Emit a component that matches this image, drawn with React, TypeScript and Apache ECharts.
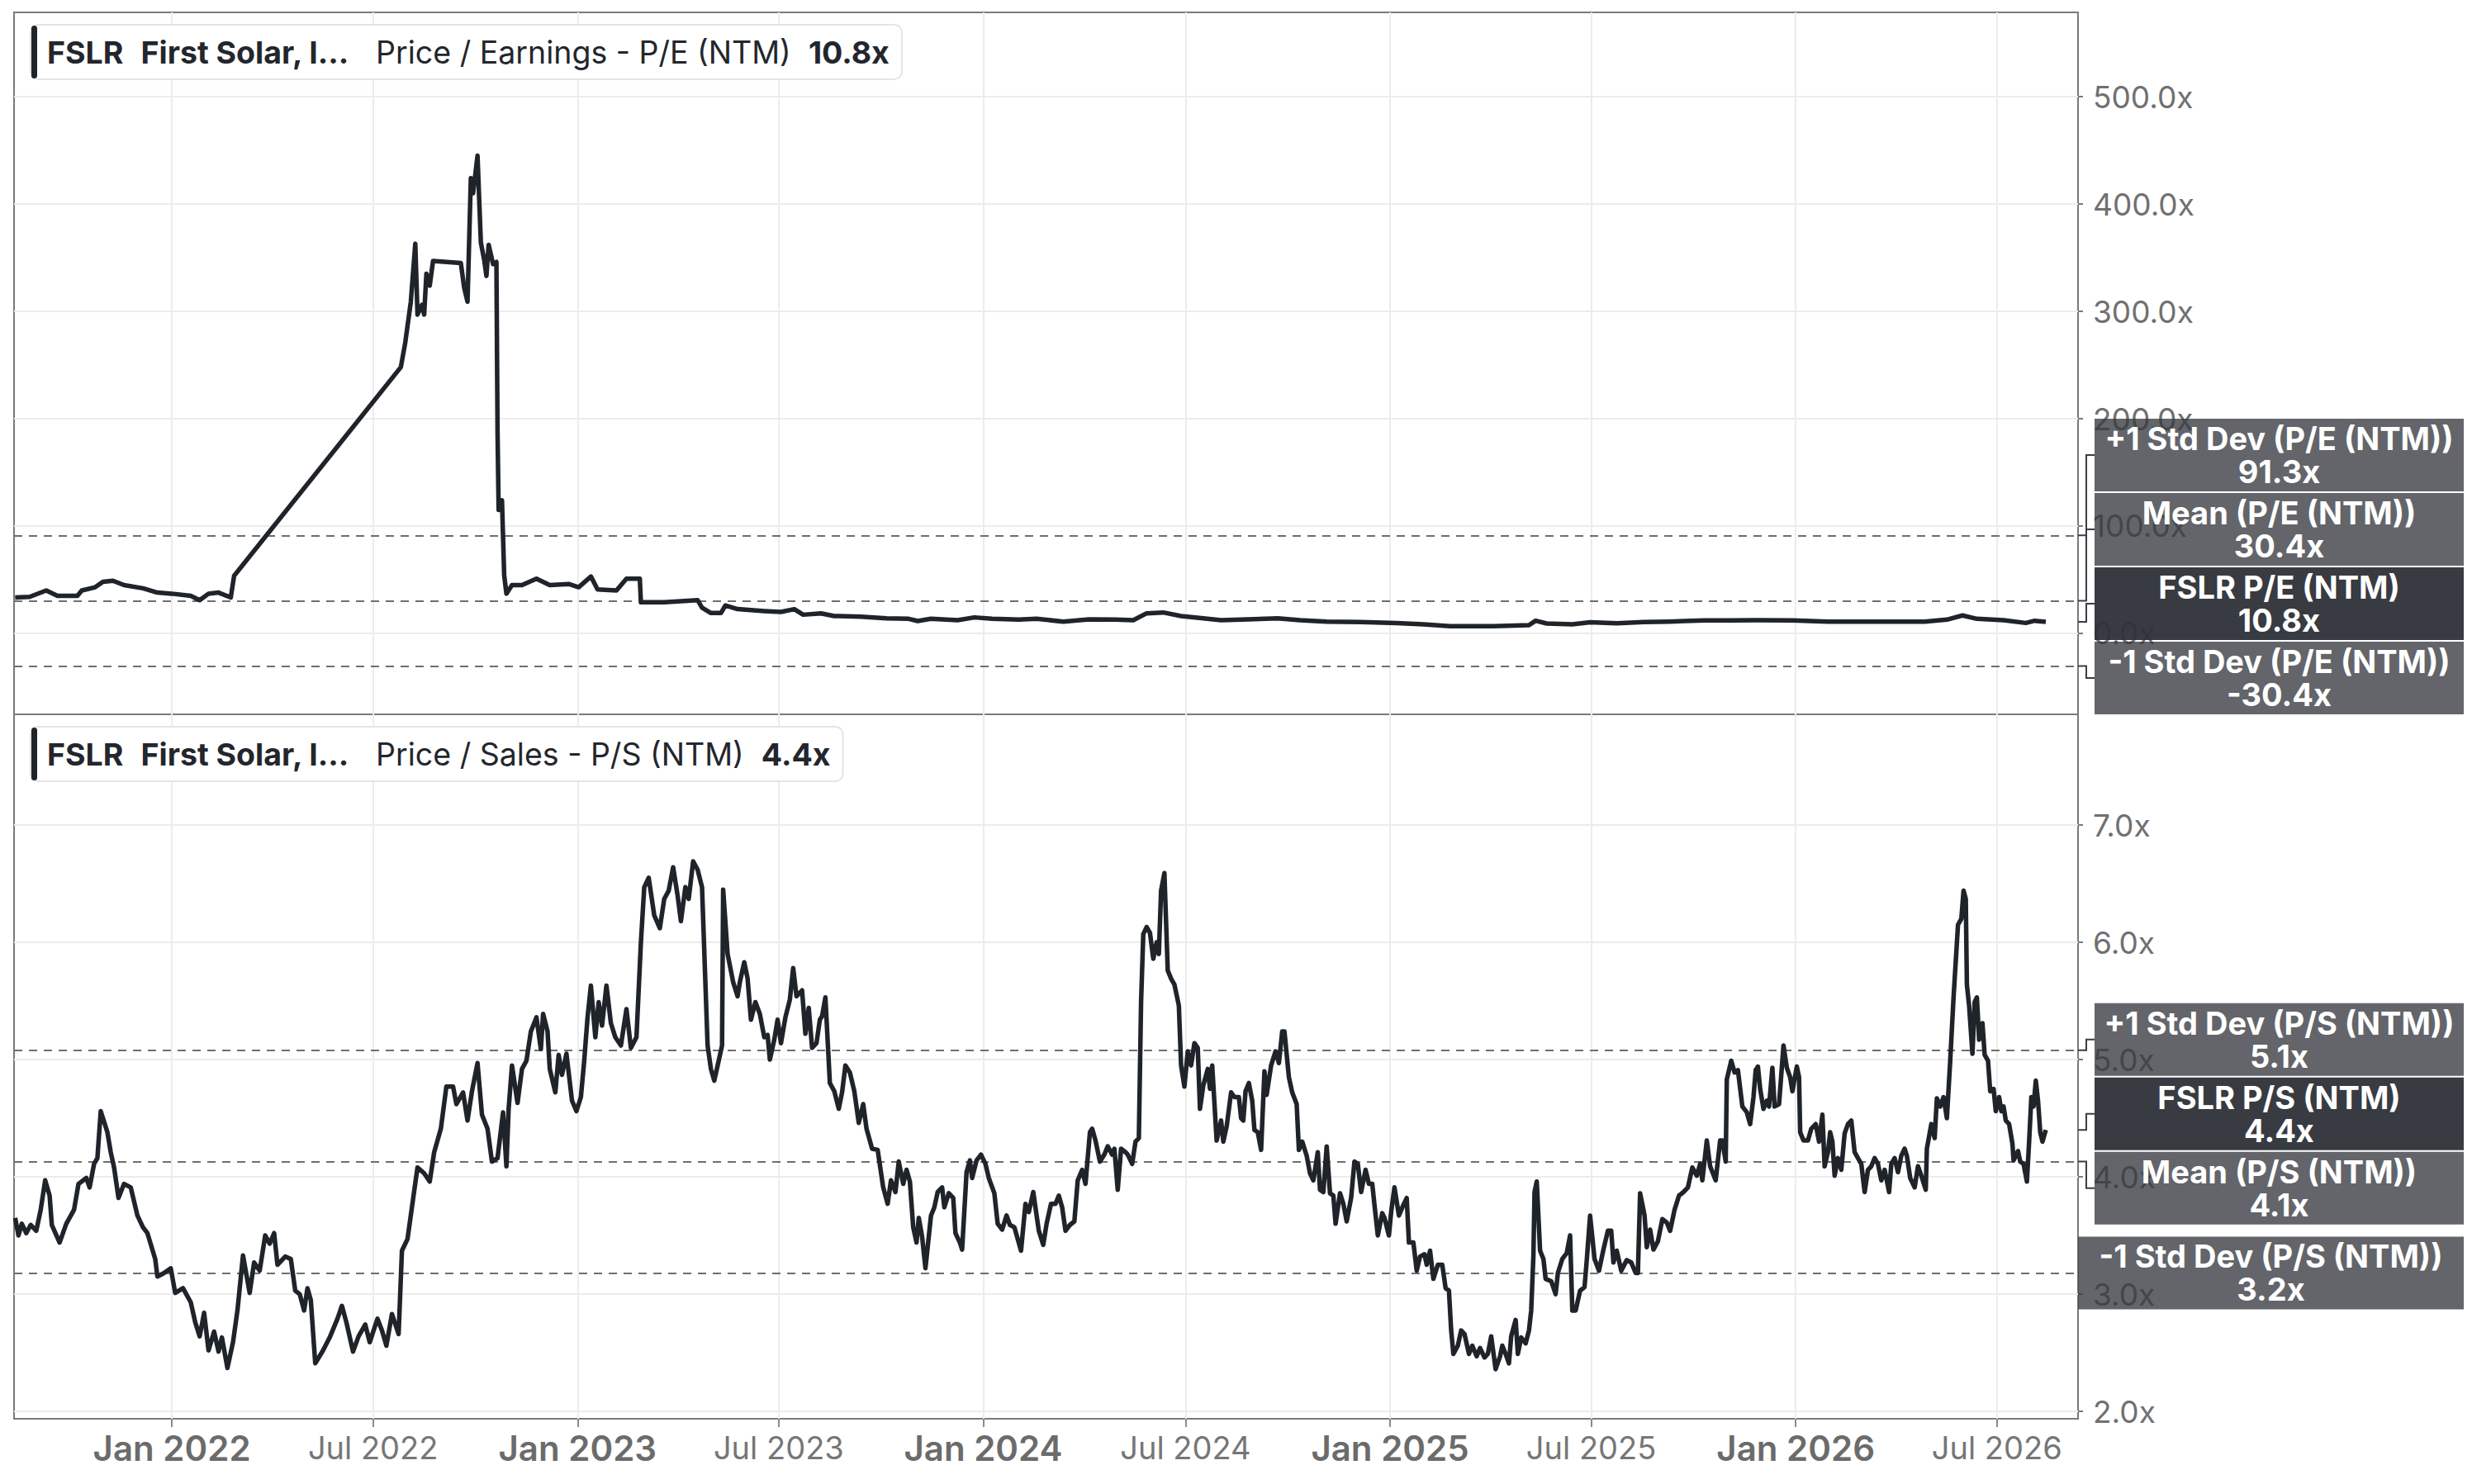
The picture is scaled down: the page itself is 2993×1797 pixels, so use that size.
import React, { useEffect, useRef } from "react";
import * as echarts from "echarts";

// ---------------- DATA ----------------
const ticker = "FSLR";
const companyShort = "First Solar, I...";
const peMetricName = "Price / Earnings - P/E (NTM)";
const psMetricName = "Price / Sales - P/S (NTM)";

const peDates = [
  "2021-08-13","2021-08-26","2021-09-10","2021-09-20","2021-10-08","2021-10-12","2021-10-24","2021-10-31","2021-11-09","2021-11-19",
  "2021-12-06","2021-12-19","2022-01-01","2022-01-18","2022-01-26","2022-02-03","2022-02-12","2022-02-23","2022-02-26","2022-07-26",
  "2022-07-30","2022-08-04","2022-08-08","2022-08-10","2022-08-14","2022-08-16","2022-08-18","2022-08-21","2022-08-24","2022-09-18",
  "2022-09-21","2022-09-24","2022-09-27","2022-09-29","2022-10-03","2022-10-06","2022-10-09","2022-10-11","2022-10-13","2022-10-17",
  "2022-10-20","2022-10-21","2022-10-22","2022-10-25","2022-10-27","2022-10-29","2022-11-03","2022-11-12","2022-11-25","2022-12-07",
  "2022-12-24","2023-01-02","2023-01-13","2023-01-19","2023-02-05","2023-02-14","2023-02-26","2023-02-27","2023-03-20","2023-04-19",
  "2023-04-23","2023-05-01","2023-05-10","2023-05-14","2023-05-25","2023-06-18","2023-07-03","2023-07-15","2023-07-23","2023-08-08",
  "2023-08-20","2023-09-13","2023-10-06","2023-10-26","2023-11-03","2023-11-15","2023-12-09","2023-12-24","2024-01-09","2024-02-02",
  "2024-02-18","2024-03-13","2024-04-05","2024-04-29","2024-05-15","2024-05-27","2024-06-11","2024-06-27","2024-07-17","2024-08-02",
  "2024-08-26","2024-09-22","2024-10-12","2024-11-05","2024-12-06","2025-01-07","2025-01-31","2025-02-24","2025-04-04","2025-05-06",
  "2025-05-12","2025-05-22","2025-06-14","2025-06-30","2025-07-24","2025-08-17","2025-09-09","2025-10-11","2025-11-04","2025-11-27",
  "2025-12-29","2026-01-30","2026-03-02","2026-04-03","2026-04-27","2026-05-17","2026-05-31","2026-06-13","2026-07-07","2026-07-27",
  "2026-08-04","2026-08-14",
];
const peValues = [
  33.5,34,40,35,35,40,43,48,49,45,
  42,38,37,35,31,37,38,33.5,53.6,248,
  271,309,363,297,306,297,335,324,347,345,
  322,309,424,410,445,364,348,333,362,344,
  346,188,115,124,54,37,45,45,51,45,
  46,43,53,41,40,51,51,29,29,31,
  24,19,19,26,22.6,20.8,20,22.6,17.4,18.7,
  16.2,15.6,14.1,13.6,11.5,13.6,12.3,14.9,13.6,12.8,
  13.6,11.0,13.1,12.8,12.3,18.7,19.5,16.2,14.1,12.3,
  13.1,14.1,12.3,11.0,10.5,9.7,8.5,6.7,6.7,7.7,
  11.8,9.2,8.5,10.3,9.5,10.5,11.0,12.1,12.1,12.3,
  12.1,11.0,11.0,11.0,11.0,12.8,16.7,13.6,12.3,9.7,
  11.8,10.8,
];

const psDates = [
  "2021-08-13","2021-08-16","2021-08-19","2021-08-23","2021-08-27","2021-09-01","2021-09-05","2021-09-09","2021-09-13","2021-09-15",
  "2021-09-22","2021-09-28","2021-10-05","2021-10-09","2021-10-16","2021-10-19","2021-10-23","2021-10-26","2021-10-29","2021-11-04",
  "2021-11-07","2021-11-10","2021-11-14","2021-11-19","2021-11-25","2021-12-01","2021-12-06","2021-12-10","2021-12-17","2021-12-19",
  "2021-12-25","2021-12-31","2022-01-04","2022-01-11","2022-01-18","2022-01-22","2022-01-26","2022-01-30","2022-02-03","2022-02-08",
  "2022-02-12","2022-02-15","2022-02-20","2022-02-25","2022-03-01","2022-03-06","2022-03-12","2022-03-16","2022-03-21","2022-03-26",
  "2022-03-30","2022-04-03","2022-04-06","2022-04-13","2022-04-18","2022-04-22","2022-04-26","2022-04-30","2022-05-03","2022-05-06",
  "2022-05-10","2022-05-17","2022-05-23","2022-05-30","2022-06-03","2022-06-07","2022-06-13","2022-06-18","2022-06-24","2022-06-28",
  "2022-07-05","2022-07-09","2022-07-13","2022-07-18","2022-07-24","2022-07-27","2022-08-01","2022-08-06","2022-08-10","2022-08-16",
  "2022-08-21","2022-08-25","2022-08-31","2022-09-05","2022-09-11","2022-09-14","2022-09-20","2022-09-24","2022-09-28","2022-10-03",
  "2022-10-07","2022-10-12","2022-10-16","2022-10-21","2022-10-26","2022-10-29","2022-10-31","2022-11-03","2022-11-08","2022-11-12",
  "2022-11-16","2022-11-20","2022-11-25","2022-11-29","2022-12-01","2022-12-05","2022-12-07","2022-12-12","2022-12-15","2022-12-18",
  "2022-12-22","2022-12-27","2022-12-31","2023-01-04","2023-01-07","2023-01-10","2023-01-13","2023-01-17","2023-01-20","2023-01-23",
  "2023-01-27","2023-01-31","2023-02-04","2023-02-09","2023-02-14","2023-02-18","2023-02-23","2023-02-27","2023-03-02","2023-03-06",
  "2023-03-11","2023-03-16","2023-03-20","2023-03-24","2023-03-28","2023-04-01","2023-04-04","2023-04-08","2023-04-11","2023-04-15",
  "2023-04-19","2023-04-23","2023-04-28","2023-05-01","2023-05-04","2023-05-08","2023-05-11","2023-05-12","2023-05-16","2023-05-21",
  "2023-05-25","2023-05-27","2023-05-31","2023-06-03","2023-06-06","2023-06-10","2023-06-14","2023-06-18","2023-06-21","2023-06-23",
  "2023-06-27","2023-06-30","2023-07-03","2023-07-07","2023-07-11","2023-07-14","2023-07-17","2023-07-22","2023-07-25","2023-07-28",
  "2023-07-31","2023-08-04","2023-08-07","2023-08-09","2023-08-12","2023-08-16","2023-08-20","2023-08-24","2023-08-27","2023-08-30",
  "2023-09-03","2023-09-07","2023-09-11","2023-09-15","2023-09-18","2023-09-23","2023-09-28","2023-10-03","2023-10-07","2023-10-10",
  "2023-10-14","2023-10-17","2023-10-21","2023-10-24","2023-10-27","2023-10-30","2023-11-02","2023-11-04","2023-11-07","2023-11-10",
  "2023-11-15","2023-11-18","2023-11-21","2023-11-25","2023-11-27","2023-12-01","2023-12-05","2023-12-07","2023-12-11","2023-12-13",
  "2023-12-17","2023-12-20","2023-12-22","2023-12-26","2023-12-30","2024-01-03","2024-01-06","2024-01-11","2024-01-14","2024-01-18",
  "2024-01-22","2024-01-25","2024-01-29","2024-02-01","2024-02-04","2024-02-08","2024-02-11","2024-02-15","2024-02-20","2024-02-24",
  "2024-02-27","2024-03-02","2024-03-06","2024-03-09","2024-03-12","2024-03-15","2024-03-19","2024-03-23","2024-03-26","2024-03-30",
  "2024-04-02","2024-04-06","2024-04-08","2024-04-11","2024-04-15","2024-04-19","2024-04-22","2024-04-26","2024-04-28","2024-05-01",
  "2024-05-04","2024-05-08","2024-05-10","2024-05-14","2024-05-17","2024-05-20","2024-05-22","2024-05-24","2024-05-27","2024-05-30",
  "2024-06-02","2024-06-05","2024-06-07","2024-06-09","2024-06-12","2024-06-15","2024-06-18","2024-06-21","2024-06-25","2024-06-27",
  "2024-06-30","2024-07-03","2024-07-06","2024-07-09","2024-07-12","2024-07-14","2024-07-17","2024-07-21","2024-07-23","2024-07-25",
  "2024-07-29","2024-08-02","2024-08-04","2024-08-07","2024-08-11","2024-08-14","2024-08-18","2024-08-20","2024-08-22","2024-08-24",
  "2024-08-27","2024-08-30","2024-09-01","2024-09-04","2024-09-07","2024-09-10","2024-09-12","2024-09-16","2024-09-20","2024-09-23",
  "2024-09-26","2024-09-28","2024-10-02","2024-10-05","2024-10-09","2024-10-11","2024-10-14","2024-10-18","2024-10-21","2024-10-24",
  "2024-10-28","2024-10-30","2024-11-02","2024-11-05","2024-11-08","2024-11-11","2024-11-13","2024-11-17","2024-11-20","2024-11-23",
  "2024-11-27","2024-11-30","2024-12-03","2024-12-06","2024-12-10","2024-12-13","2024-12-16","2024-12-18","2024-12-21","2024-12-25",
  "2024-12-27","2024-12-31","2025-01-02","2025-01-05","2025-01-09","2025-01-13","2025-01-16","2025-01-18","2025-01-22","2025-01-25",
  "2025-01-28","2025-02-01","2025-02-03","2025-02-06","2025-02-09","2025-02-13","2025-02-17","2025-02-20","2025-02-23","2025-02-25",
  "2025-02-27","2025-03-03","2025-03-06","2025-03-09","2025-03-13","2025-03-16","2025-03-20","2025-03-23","2025-03-27","2025-03-30",
  "2025-04-02","2025-04-06","2025-04-10","2025-04-12","2025-04-15","2025-04-18","2025-04-20","2025-04-24","2025-04-26","2025-04-29",
  "2025-05-03","2025-05-06","2025-05-08","2025-05-10","2025-05-11","2025-05-13","2025-05-16","2025-05-19","2025-05-21","2025-05-26",
  "2025-05-30","2025-06-01","2025-06-05","2025-06-09","2025-06-12","2025-06-14","2025-06-17","2025-06-21","2025-06-25","2025-06-27",
  "2025-06-30","2025-07-04","2025-07-08","2025-07-12","2025-07-16","2025-07-19","2025-07-21","2025-07-24","2025-07-28","2025-08-02",
  "2025-08-06","2025-08-10","2025-08-12","2025-08-14","2025-08-18","2025-08-20","2025-08-23","2025-08-26","2025-08-30","2025-09-03",
  "2025-09-07","2025-09-10","2025-09-14","2025-09-18","2025-09-22","2025-09-26","2025-09-30","2025-10-04","2025-10-07","2025-10-09",
  "2025-10-13","2025-10-16","2025-10-21","2025-10-25","2025-10-27","2025-10-30","2025-10-31","2025-11-04","2025-11-07","2025-11-10",
  "2025-11-14","2025-11-18","2025-11-21","2025-11-24","2025-11-26","2025-11-28","2025-11-30","2025-12-03","2025-12-06","2025-12-08",
  "2025-12-11","2025-12-13","2025-12-17","2025-12-21","2025-12-24","2025-12-27","2025-12-29","2026-01-02","2026-01-04","2026-01-05",
  "2026-01-08","2026-01-12","2026-01-15","2026-01-19","2026-01-22","2026-01-25","2026-01-27","2026-01-30","2026-02-01","2026-02-03",
  "2026-02-05","2026-02-08","2026-02-11","2026-02-14","2026-02-17","2026-02-20","2026-02-23","2026-02-26","2026-03-01","2026-03-04",
  "2026-03-07","2026-03-10","2026-03-13","2026-03-16","2026-03-19","2026-03-22","2026-03-26","2026-03-28","2026-03-31","2026-04-03",
  "2026-04-06","2026-04-09","2026-04-11","2026-04-14","2026-04-18","2026-04-21","2026-04-24","2026-04-28","2026-04-29","2026-05-03",
  "2026-05-06","2026-05-08","2026-05-11","2026-05-14","2026-05-17","2026-05-20","2026-05-23","2026-05-27","2026-05-30","2026-06-01",
  "2026-06-03","2026-06-04","2026-06-06","2026-06-09","2026-06-11","2026-06-13","2026-06-15","2026-06-18","2026-06-20","2026-06-23",
  "2026-06-25","2026-06-28","2026-06-30","2026-07-03","2026-07-05","2026-07-07","2026-07-09","2026-07-12","2026-07-15","2026-07-16",
  "2026-07-20","2026-07-22","2026-07-25","2026-07-28","2026-07-30","2026-08-01","2026-08-03","2026-08-05","2026-08-07","2026-08-09",
  "2026-08-11","2026-08-14",
];
const psValues = [
  3.65,3.50,3.60,3.52,3.59,3.54,3.72,3.97,3.84,3.59,
  3.44,3.60,3.72,3.94,3.99,3.91,4.11,4.16,4.56,4.38,
  4.21,4.08,3.82,3.94,3.91,3.67,3.57,3.52,3.30,3.15,
  3.18,3.22,3.01,3.05,2.93,2.76,2.64,2.84,2.52,2.68,
  2.51,2.63,2.37,2.59,2.86,3.33,3.01,3.27,3.20,3.50,
  3.43,3.52,3.25,3.32,3.30,3.03,3.00,2.86,3.05,2.95,
  2.41,2.52,2.63,2.79,2.90,2.76,2.51,2.64,2.74,2.59,
  2.79,2.69,2.56,2.83,2.66,3.37,3.47,3.81,4.08,4.03,
  3.96,4.21,4.41,4.77,4.77,4.62,4.72,4.48,4.73,4.97,
  4.53,4.41,4.13,4.16,4.55,4.09,4.58,4.95,4.63,4.92,
  4.99,5.24,5.36,5.09,5.39,5.24,4.92,4.72,5.04,4.87,
  5.05,4.65,4.56,4.68,4.99,5.36,5.63,5.19,5.49,5.29,
  5.63,5.31,5.19,5.12,5.43,5.10,5.19,6.00,6.47,6.55,
  6.23,6.12,6.37,6.44,6.64,6.40,6.18,6.47,6.37,6.69,
  6.62,6.47,5.12,4.92,4.82,4.99,5.12,6.45,5.90,5.66,
  5.54,5.66,5.83,5.69,5.34,5.49,5.39,5.19,5.21,5.00,
  5.17,5.34,5.14,5.36,5.51,5.78,5.54,5.59,5.22,5.44,
  5.10,5.14,5.34,5.37,5.53,4.80,4.73,4.58,4.72,4.95,
  4.89,4.73,4.46,4.62,4.41,4.24,4.23,3.91,3.77,3.97,
  3.87,4.13,3.94,4.06,3.96,3.57,3.44,3.65,3.49,3.22,
  3.67,3.74,3.87,3.91,3.74,3.86,3.82,3.52,3.44,3.38,
  4.04,4.14,3.99,4.14,4.19,4.11,3.99,3.86,3.60,3.55,
  3.67,3.59,3.57,3.47,3.37,3.77,3.70,3.87,3.54,3.42,
  3.60,3.77,3.77,3.84,3.74,3.54,3.59,3.62,3.97,4.06,
  3.94,4.38,4.41,4.31,4.13,4.19,4.26,4.19,4.24,3.89,
  4.24,4.21,4.19,4.11,4.30,4.33,5.49,6.07,6.13,6.08,
  5.86,6.00,5.90,6.44,6.59,5.76,5.69,5.64,5.46,4.95,
  4.77,5.07,4.95,5.14,5.10,4.58,4.78,4.92,4.75,4.95,
  4.31,4.48,4.30,4.43,4.72,4.68,4.68,4.50,4.48,4.73,
  4.80,4.65,4.40,4.38,4.23,4.90,4.70,4.95,5.07,4.97,
  5.24,5.24,4.85,4.72,4.62,4.23,4.30,4.18,4.03,3.97,
  4.21,3.89,3.87,4.26,3.86,3.84,3.60,3.86,3.77,3.62,
  3.82,4.13,4.11,3.87,4.06,3.94,3.94,3.76,3.50,3.69,
  3.65,3.50,3.70,3.91,3.67,3.76,3.82,3.44,3.44,3.20,
  3.32,3.34,3.25,3.37,3.13,3.25,3.25,3.05,3.03,2.69,
  2.49,2.56,2.69,2.66,2.49,2.56,2.47,2.54,2.46,2.49,
  2.64,2.36,2.47,2.56,2.49,2.41,2.64,2.78,2.49,2.63,
  2.58,2.69,2.86,3.33,3.87,3.96,3.37,3.30,3.13,3.11,
  3.00,3.18,3.30,3.35,3.50,2.86,2.86,3.03,3.06,3.29,
  3.67,3.30,3.20,3.38,3.54,3.54,3.27,3.37,3.20,3.29,
  3.27,3.18,3.18,3.86,3.67,3.40,3.55,3.38,3.45,3.64,
  3.61,3.54,3.72,3.84,3.87,3.91,4.08,4.01,4.11,3.97,
  4.31,4.09,3.97,4.31,4.31,4.13,4.83,4.99,4.89,4.91,
  4.60,4.55,4.45,4.68,4.91,4.94,4.75,4.58,4.65,4.60,
  4.93,4.60,4.62,5.12,4.93,4.85,4.73,4.94,4.85,4.38,
  4.31,4.31,4.41,4.45,4.30,4.53,4.09,4.21,4.38,4.30,
  4.01,4.16,4.06,4.37,4.45,4.48,4.21,4.16,4.11,3.87,
  4.06,4.09,4.16,4.11,3.97,4.06,3.87,4.11,4.16,4.04,
  4.18,4.24,4.18,3.99,3.91,4.09,4.01,3.89,4.24,4.45,
  4.33,4.67,4.60,4.68,4.50,4.99,5.53,6.15,6.20,6.44,
  6.37,5.64,5.46,5.05,5.49,5.53,5.17,5.31,5.04,4.99,
  4.73,4.75,4.56,4.68,4.56,4.60,4.48,4.45,4.28,4.14,
  4.22,4.13,4.11,3.96,4.30,4.68,4.60,4.82,4.65,4.38,
  4.30,4.40,
];

// reference lines (mean and +/-1 standard deviation)
const peStatLabels = ["+1 Std Dev (P/E (NTM))", "Mean (P/E (NTM))", "-1 Std Dev (P/E (NTM))"];
const peStatValues = [91.3, 30.4, -30.4];
const psStatLabels = ["+1 Std Dev (P/S (NTM))", "Mean (P/S (NTM))", "-1 Std Dev (P/S (NTM))"];
const psStatValues = [5.08, 4.13, 3.18];
const peCurrentLabel = "FSLR P/E (NTM)";
const psCurrentLabel = "FSLR P/S (NTM)";

// axes
const xTickDates = [
  "2022-01-01","2022-07-01","2023-01-01","2023-07-01","2024-01-01",
  "2024-07-01","2025-01-01","2025-07-01","2026-01-01","2026-07-01",
];
const xRange = ["2021-08-12", "2026-09-12"];
const peTicks = [0, 100, 200, 300, 400, 500];
const peRange = [-75.4, 578.5];
const psTicks = [2, 3, 4, 5, 6, 7];
const psRange = [1.937, 7.944];
const monthNames = ["Jan","Feb","Mar","Apr","May","Jun","Jul","Aug","Sep","Oct","Nov","Dec"];

// ---------------- LAYOUT ----------------
const W = 2993;
const H = 1797;
const FRAME_L = 17;
const FRAME_R = 2516;
const TOP1 = 15;
const SPLIT = 865;
const BOTTOM2 = 1718;
const BOX_H = 88;
const BOX_GAP = 2;
const BOX_RIGHT = 2983;
const CONN_X = 2526;
const SHIFT_X = 2536;
const BOX_LINE_OFFSET = 20;
const FONT = 'Inter, "Noto Sans", Roboto, sans-serif';
const LINE_COLOR = "#1f232a";
const GRID_COLOR = "#ececec";
const FRAME_COLOR = "#7a7a7a";

const ts = (s: string) => {
  const [y, m, d] = s.split("-").map(Number);
  return new Date(y, m - 1, d).getTime();
};

type BoxItem = { label: string; value: number; py: number; dark: boolean };

function layoutBoxes(items: BoxItem[], top: number, bottom: number) {
  const sorted = [...items].sort((a, b) => a.py - b.py);
  let clusters: BoxItem[][] = sorted.map((it) => [it]);
  const span = (c: BoxItem[]) => c.length * BOX_H + (c.length - 1) * BOX_GAP;
  const start = (c: BoxItem[]) => {
    const center = c.reduce((s, m) => s + m.py, 0) / c.length;
    let s = center - span(c) / 2;
    if (s < top) s = top;
    if (s + span(c) > bottom) s = bottom - span(c);
    return s;
  };
  let changed = true;
  while (changed) {
    changed = false;
    for (let i = 0; i < clusters.length - 1; i++) {
      if (start(clusters[i]) + span(clusters[i]) + BOX_GAP > start(clusters[i + 1])) {
        clusters.splice(i, 2, [...clusters[i], ...clusters[i + 1]]);
        changed = true;
        break;
      }
    }
  }
  const out: (BoxItem & { y0: number; shifted: boolean })[] = [];
  clusters.forEach((c) => {
    const s = start(c);
    c.forEach((m, k) => {
      const y0 = s + k * (BOX_H + BOX_GAP);
      out.push({ ...m, y0, shifted: c.length > 1 || Math.abs(y0 + BOX_H / 2 - m.py) > 1 });
    });
  });
  return out;
}

function boxText(x: number, y: number, text: string) {
  return {
    type: "text",
    z: 101,
    style: {
      x,
      y,
      text,
      align: "center",
      textAlign: "center",
      verticalAlign: "middle",
      textVerticalAlign: "middle",
      fill: "#ffffff",
      fontSize: 38,
      fontWeight: "bold",
      fontFamily: FONT,
      lineHeight: 38,
    },
  };
}

function boxGraphics(boxes: ReturnType<typeof layoutBoxes>) {
  const els: any[] = [];
  boxes.forEach((b) => {
    const x0 = b.shifted ? SHIFT_X : FRAME_R;
    const cy = b.y0 + BOX_H / 2;
    const cx = (x0 + BOX_RIGHT) / 2;
    if (b.shifted) {
      els.push({
        type: "polyline",
        z: 99,
        shape: { points: [[FRAME_R, b.py], [CONN_X, b.py], [CONN_X, cy], [SHIFT_X, cy]] },
        style: { stroke: "#3a3d42", lineWidth: 2, fill: null },
      });
    }
    els.push({
      type: "rect",
      z: 100,
      shape: { x: x0, y: b.y0, width: BOX_RIGHT - x0, height: BOX_H },
      style: { fill: b.dark ? "rgba(45,48,55,0.95)" : "rgba(55,58,64,0.78)" },
    });
    els.push(boxText(cx, cy - BOX_LINE_OFFSET, b.label));
    els.push(boxText(cx, cy + BOX_LINE_OFFSET, b.value.toFixed(1) + "x"));
  });
  return els;
}

function titleGraphics(y: number, metric: string, value: number) {
  return [
    {
      type: "text",
      z: 50,
      x: 38,
      y,
      style: {
        text: `{b|${ticker}}  {b|${companyShort}}   {r|${metric}}  {b|${value.toFixed(1)}x}`,
        fontSize: 37.5,
        fontFamily: FONT,
        fill: "#23262c",
        lineHeight: 40,
        backgroundColor: "#ffffff",
        borderColor: "#e4e4e4",
        borderWidth: 2,
        borderRadius: 8,
        padding: [12, 14, 12, 19],
        rich: {
          b: { fontSize: 37.5, fontWeight: 700, fontFamily: FONT, fill: "#23262c", lineHeight: 40 },
          r: { fontSize: 37.5, fontWeight: 400, fontFamily: FONT, fill: "#23262c", lineHeight: 40 },
        },
      },
    },
    {
      type: "rect",
      z: 51,
      shape: { x: 38, y, width: 7, height: 64, r: 3.5 },
      style: { fill: LINE_COLOR },
    },
  ];
}

export default function App() {
  const ref = useRef<HTMLDivElement>(null);

  useEffect(() => {
    if (!ref.current) return;
    const chart = echarts.init(ref.current, null, { renderer: "svg", width: W, height: H });

    const peData = peDates.map((d, i) => [ts(d), peValues[i]]);
    const psData = psDates.map((d, i) => [ts(d), psValues[i]]);
    const xTicks = xTickDates.map(ts);
    const peLast = peValues[peValues.length - 1];
    const psLast = psValues[psValues.length - 1];

    const splitLine = { show: true, lineStyle: { color: GRID_COLOR, width: 2 } };
    const gridBase = {
      left: FRAME_L,
      width: FRAME_R - FRAME_L,
      show: true,
      borderColor: FRAME_COLOR,
      borderWidth: 2,
      backgroundColor: "transparent",
      containLabel: false,
      outerBoundsMode: "none",
    };
    const yAxisBase = (gridIndex: number, ticks: number[], range: number[]) => ({
      type: "value",
      gridIndex,
      position: "right",
      min: range[0],
      max: range[1],
      axisLine: { show: false },
      axisTick: { show: true, length: 6, customValues: ticks, lineStyle: { color: FRAME_COLOR, width: 2 } },
      axisLabel: {
        customValues: ticks,
        formatter: (v: number) => v.toFixed(1) + "x",
        color: "#707070",
        fontSize: 37,
        fontFamily: FONT,
        margin: 18,
      },
      splitLine: { ...splitLine },
    });
    const xAxisBase = (gridIndex: number, showLabels: boolean) => ({
      type: "value",
      gridIndex,
      min: ts(xRange[0]),
      max: ts(xRange[1]),
      axisLine: { show: false },
      axisTick: { show: showLabels, length: 10, customValues: xTicks, lineStyle: { color: "#8a8a8a", width: 2 } },
      axisLabel: {
        show: showLabels,
        customValues: xTicks,
        margin: 13,
        formatter: (v: number) => {
          const d = new Date(v);
          const m = d.getMonth();
          const label = `${monthNames[m]} ${d.getFullYear()}`;
          return m === 0 ? `{a|${label}}` : `{b|${label}}`;
        },
        rich: {
          a: { fontSize: 42, fontWeight: 600, color: "#6b6b6b", fontFamily: FONT, lineHeight: 44 },
          b: { fontSize: 38, fontWeight: 400, color: "#767676", fontFamily: FONT, lineHeight: 44 },
        },
      },
      splitLine: { ...splitLine },
    });
    const dashed = { color: "#6e6e6e", type: [10, 8], width: 2 };

    const option: any = {
      animation: false,
      backgroundColor: "#ffffff",
      textStyle: { fontFamily: FONT },
      grid: [
        { ...gridBase, top: TOP1, height: SPLIT - TOP1 },
        { ...gridBase, top: SPLIT, height: BOTTOM2 - SPLIT },
      ],
      xAxis: [xAxisBase(0, false), xAxisBase(1, true)],
      yAxis: [yAxisBase(0, peTicks, peRange), yAxisBase(1, psTicks, psRange)],
      series: [
        {
          type: "line",
          xAxisIndex: 0,
          yAxisIndex: 0,
          data: peData,
          symbol: "none",
          showSymbol: false,
          z: 5,
          lineStyle: { color: LINE_COLOR, width: 5.5, join: "round" },
          markLine: {
            silent: true,
            symbol: "none",
            z: 3,
            label: { show: false },
            lineStyle: dashed,
            data: peStatValues.map((v) => ({ yAxis: v })),
          },
        },
        {
          type: "line",
          xAxisIndex: 1,
          yAxisIndex: 1,
          data: psData,
          symbol: "none",
          showSymbol: false,
          z: 5,
          lineStyle: { color: LINE_COLOR, width: 5.5, join: "round" },
          markLine: {
            silent: true,
            symbol: "none",
            z: 3,
            label: { show: false },
            lineStyle: dashed,
            data: psStatValues.map((v) => ({ yAxis: v })),
          },
        },
      ],
    };

    chart.setOption(option);

    const yPx = (axis: number, v: number) => chart.convertToPixel({ yAxisIndex: axis } as any, v) as number;

    const peItems: BoxItem[] = [
      ...peStatLabels.map((l, i) => ({ label: l, value: peStatValues[i], py: yPx(0, peStatValues[i]), dark: false })),
      { label: peCurrentLabel, value: peLast, py: yPx(0, peLast), dark: true },
    ];
    const psItems: BoxItem[] = [
      ...psStatLabels.map((l, i) => ({ label: l, value: psStatValues[i], py: yPx(1, psStatValues[i]), dark: false })),
      { label: psCurrentLabel, value: psLast, py: yPx(1, psLast), dark: true },
    ];

    const graphics = [
      ...titleGraphics(TOP1 + 16, peMetricName, peLast),
      ...titleGraphics(SPLIT + 16, psMetricName, psLast),
      ...boxGraphics(layoutBoxes(peItems, TOP1, SPLIT)),
      ...boxGraphics(layoutBoxes(psItems, SPLIT, BOTTOM2)),
    ];
    chart.setOption({ graphic: graphics });

    return () => chart.dispose();
  }, []);

  return (
    <div
      ref={ref}
      style={{ position: "fixed", left: 0, top: 0, width: W, height: H, background: "#ffffff" }}
    />
  );
}
